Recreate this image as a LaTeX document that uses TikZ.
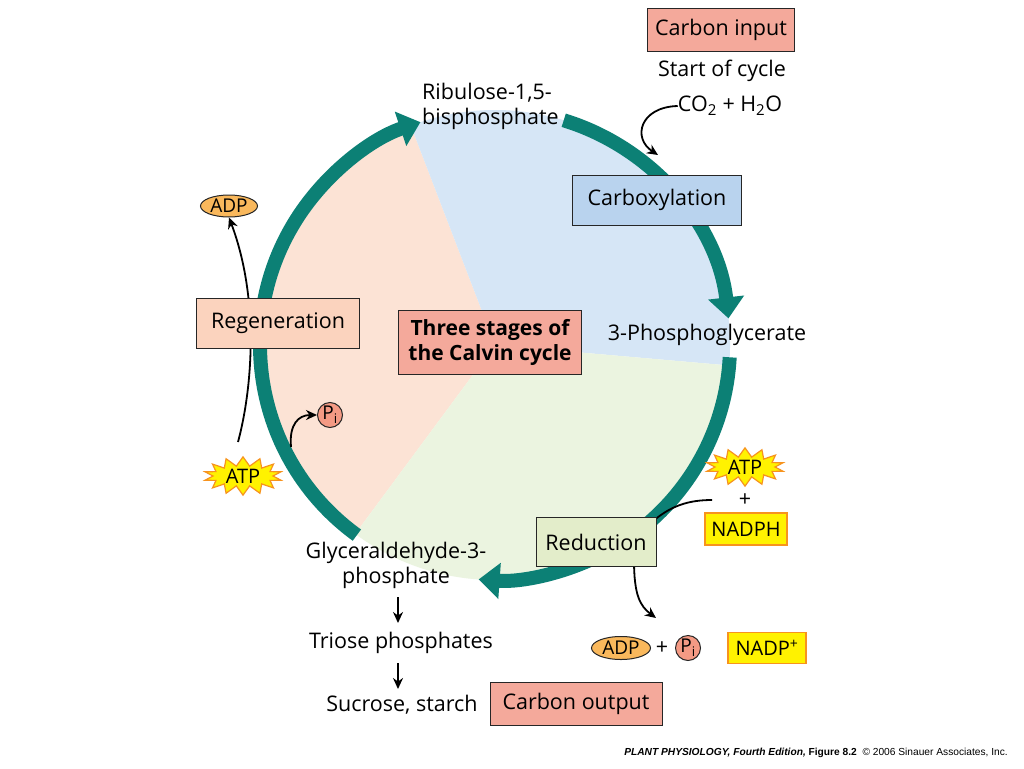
\documentclass[tikz,border=0pt]{standalone}
\usepackage{fontspec}
\setmainfont{Open Sans}
\newfontfamily\footfont{Liberation Sans}
\usetikzlibrary{arrows.meta,shapes.symbols,shapes.geometric}
\definecolor{ringc}{RGB}{12,128,117}
\definecolor{secpink}{RGB}{252,227,213}
\definecolor{secblue}{RGB}{214,230,246}
\definecolor{secgreen}{RGB}{235,244,224}
\definecolor{salmon}{RGB}{244,169,155}
\definecolor{regen}{RGB}{251,211,190}
\definecolor{carbox}{RGB}{185,211,238}
\definecolor{reduc}{RGB}{227,237,202}
\definecolor{ylw}{RGB}{255,242,0}
\definecolor{orng}{RGB}{247,147,30}
\definecolor{adpc}{RGB}{249,184,92}
\definecolor{pic}{RGB}{244,154,132}
\tikzset{
  box/.style={draw=black!85, line width=1pt, inner sep=0pt, align=center},
  ptr/.style={draw=black, line width=1.8pt, -{Stealth[length=11pt,width=10pt]}},
  plain/.style={draw=black, line width=1.8pt},
  ringarrow/.style={draw=ringc, line width=14pt, -{Triangle[width=35pt,length=21pt]}},
  burst/.style={starburst, starburst points=14, starburst point height=9pt, random starburst=0,
    fill=ylw, draw=orng, line width=1.2pt, minimum width=78pt, minimum height=22pt, inner sep=0pt,
    font=\fontsize{20}{24}\selectfont},
  ylbox/.style={box, fill=ylw, draw=orng, line width=1.5pt, font=\fontsize{20}{24}\selectfont},
  adpnode/.style={ellipse, fill=adpc, draw=black!85, line width=1pt, inner sep=0pt, font=\fontsize{19}{22}\selectfont},
  pinode/.style={circle, fill=pic, draw=black!85, line width=1pt, inner sep=0pt, minimum size=25pt, font=\fontsize{19}{20}\selectfont},
  lbl/.style={align=center, inner sep=0pt}
}
\begin{document}
\begin{tikzpicture}[x=1pt,y=-1pt, font=\fontsize{21.5}{25}\selectfont]
\useasboundingbox[fill=white] (0,0) rectangle (1024,768);
\coordinate (C) at (495,345);
% sectors
\fill[secpink] (C) -- ([shift={(111:235pt)}]C) arc[start angle=111, end angle=233.5, radius=235pt] -- cycle;
\fill[secblue] (C) -- ([shift={(-5:235pt)}]C) arc[start angle=-5, end angle=111, radius=235pt] -- cycle;
\fill[secgreen] (C) -- ([shift={(233.5:235pt)}]C) arc[start angle=233.5, end angle=355, radius=235pt] -- cycle;
% ring arrows
\draw[ringarrow] ([shift={(234:235pt)}]C) arc[start angle=234, end angle=108.5, radius=235pt];
\draw[ringarrow] ([shift={(73:235pt)}]C) arc[start angle=73, end angle=6.5, radius=235pt];
\draw[ringarrow] ([shift={(-3:235pt)}]C) arc[start angle=-3, end angle=-94, radius=235pt];
% labels on the cycle
\node[lbl, align=left, anchor=west] (rubp) at (422,106) {Ribulose-1,5-\\bisphosphate};
\node[lbl] (pga) at (707,335) {3-Phosphoglycerate};
\node[lbl] (g3p) at (396,565) {Glyceraldehyde-3-\\phosphate};
\node[lbl] (triose) at (401,643) {Triose phosphates};
\node[lbl] (sucrose) at (402,705) {Sucrose, starch};
% top right
\node[box, fill=salmon, minimum width=147pt, minimum height=43pt] (cin) at (721,30) {Carbon input};
\node[lbl] (start) at (722,71) {Start of cycle};
\node[lbl] (co2) at (730,106) {CO\textsubscript{2} + H\textsubscript{2}O};
\coordinate (co2in) at (658,155);
\draw[ptr] (co2.west) .. controls (640,107) and (632,138) .. (co2in);
% left side
\node[adpnode, minimum width=57pt, minimum height=22pt] (adpL) at (229,206) {ADP};
\node[burst] (atpL) at (243,476) {ATP};
\node[pinode] (piL) at (330,415) {P\textsubscript{i}};
\coordinate (atpLout) at (238,442);
\draw[ptr] (atpLout) .. controls (252,390) and (260,300) .. (adpL.south);
\coordinate (piLfrom) at (291,447);
\draw[ptr] (piLfrom) .. controls (289,425) and (298,415) .. (piL.west);
% right side
\node[burst] (atpR) at (745,467) {ATP};
\node[lbl] (plusR) at (745,500) {+};
\node[ylbox, minimum width=82pt, minimum height=32pt] (nadph) at (746,529) {NADPH};
\node[adpnode, minimum width=59pt, minimum height=23pt] (adpB) at (621,648) {ADP};
\node[lbl] (plusB) at (662,648) {+};
\node[pinode] (piB) at (688,648) {P\textsubscript{i}};
\node[ylbox, minimum width=78pt, minimum height=31pt] (nadpp) at (767,648) {NADP\textsuperscript{+}};
\node[box, fill=salmon, minimum width=172pt, minimum height=43pt] (cout) at (576,704) {Carbon output};
% stage boxes
\node[box, fill=carbox, minimum width=169pt, minimum height=50pt] (carb) at (657,200) {Carboxylation};
\node[box, fill=regen, minimum width=163pt, minimum height=50pt] (regen) at (278,323) {Regeneration};
\coordinate (redin) at (712,500);
\coordinate (redout) at (656,618);
\draw[plain] (650,524) .. controls (670,505) and (690,500) .. (redin);
\draw[ptr] (634,560) .. controls (634,595) and (640,606) .. (redout);
\node[box, fill=reduc, minimum width=120pt, minimum height=49pt] (red) at (596,542) {Reduction};
\node[box, fill=salmon, minimum width=183pt, minimum height=64pt, font=\bfseries\fontsize{21}{25}\selectfont] (three) at (490,342) {Three stages of\\the Calvin cycle};
% output arrows
\draw[ptr] (398,597) -- (398,623);
\draw[ptr] (398,663) -- (398,689);
% footer
\node[anchor=base east, inner sep=0pt, font=\footfont\fontsize{10.2}{12}\selectfont] (foot) at (1008,755)
 {\textbf{\textit{PLANT PHYSIOLOGY, Fourth Edition,}} \textbf{Figure 8.2}\ \ © 2006 Sinauer Associates, Inc.};
\end{tikzpicture}
\end{document}
